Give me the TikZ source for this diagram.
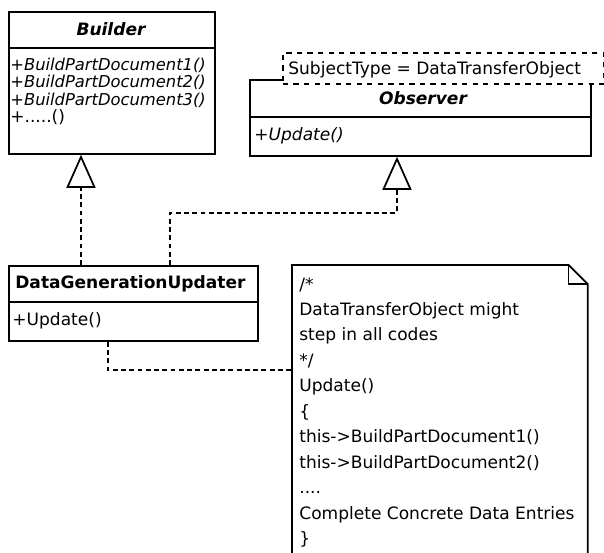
\documentclass[tikz,border=0pt]{standalone}
\usepackage{fontspec}
\setmainfont{DejaVu Sans}
\usetikzlibrary{arrows.meta, positioning}

\begin{document}
\begin{tikzpicture} [x=0.02cm, y=-0.02cm, font=\fontsize{9.7}{11}\selectfont,
    classbox/.style = {draw, line width=1pt, fill=white, inner sep=0pt, anchor=north west},
    member/.style = {inner sep=0pt, anchor=north west, align=left},
    realize/.style = {line width=1pt, dash pattern=on 2.8pt off 1.9pt, -{Triangle[open, length=18.8pt, width=16.5pt, line width=1pt]}},
    link/.style = {line width=1pt, dash pattern=on 2.8pt off 1.9pt}]

    \clip (0,0) rectangle (604,552);

    % classes
    \node (builder) [classbox, minimum width=4.12cm, minimum height=2.84cm] at (8,11) {};
    \node (observer) [classbox, minimum width=6.82cm, minimum height=1.52cm] at (249,79) {};
    \node (dgu) [classbox, minimum width=4.98cm, minimum height=1.5cm] at (8,265) {};
    \node (tmpl) [classbox, dashed, minimum width=6.42cm, minimum height=0.62cm] at (282,52) {};

    \draw [line width=1pt] (builder.west |- 0,48) -- (builder.east |- 0,48);
    \draw [line width=1pt] (observer.west |- 0,117) -- (observer.east |- 0,117);
    \draw [line width=1pt] (dgu.west |- 0,302) -- (dgu.east |- 0,302);

    \node (builder title) at (111,29) {\bfseries\itshape Builder};
    \node (builder ops) [member, font=\fontsize{9.3}{9.8}\selectfont] at (10,58) {\itshape +BuildPartDocument1()\\ \itshape +BuildPartDocument2()\\ \itshape +BuildPartDocument3()\\ \fontsize{9.7}{11}\selectfont +.....()};
    \node (tmpl text) [member, anchor=west] at (288,70) {SubjectType = DataTransferObject};
    \node (observer title) at (423,98) {\bfseries\itshape Observer};
    \node (observer ops) [member, anchor=west] at (254,136) {\itshape +Update()};
    \node (dgu title) [member, anchor=west] at (15,284) {\bfseries DataGenerationUpdater};
    \node (dgu ops) [member, anchor=west] at (12,321) {+Update()};

    % note
    \node (note) [inner sep=0pt, anchor=north west, minimum width=5.9cm, minimum height=6.1cm] at (292,265) {};
    \draw [line width=1pt, fill=white] (note.south west) -- (note.north west) -- ([xshift=-0.38cm]note.north east)
        -- ([yshift=-0.38cm]note.north east) -- (note.south east);
    \draw [line width=0.8pt] ([xshift=-0.38cm]note.north east) |- ([yshift=-0.38cm]note.north east);
    \node (note text) [member, font=\fontsize{9.7}{14.5}\selectfont] at (299,277)
        {/*\\ DataTransferObject might\\ step in all codes\\ */\\ Update()\\ \{\\ this->BuildPartDocument1()\\ this->BuildPartDocument2()\\ ....\\ Complete Concrete Data Entries\\ \}};

    % connectors
    \draw [realize] ([xshift=1.46cm]dgu.north west) -- ([xshift=1.46cm]dgu.north west |- builder.south);
    \draw [realize] ([xshift=3.24cm]dgu.north west) -- ++(0,-52) -| ([xshift=2.96cm]observer.south west);
    \draw [link] ([xshift=2cm]dgu.south west) |- ([yshift=-2.1cm]note.north west);

\end{tikzpicture}
\end{document}
